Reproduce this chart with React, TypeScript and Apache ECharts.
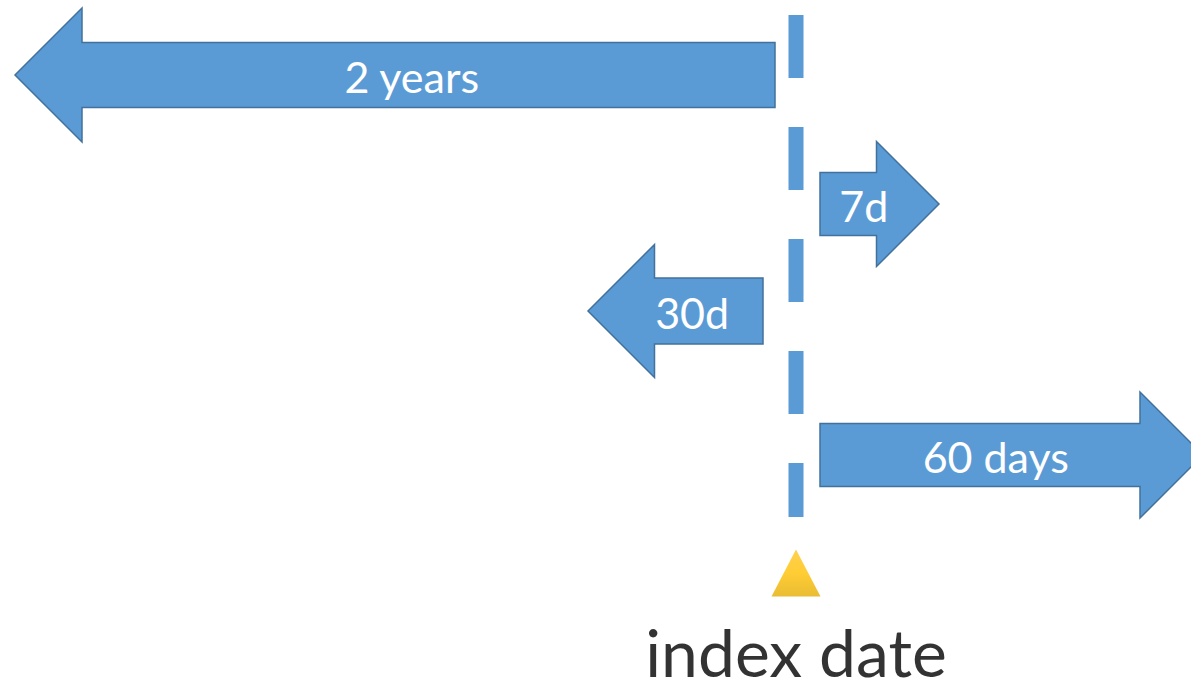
import React, { useEffect, useRef } from "react";
import * as echarts from "echarts";

// Diagram units (horizontal timeline position, vertical row position)
const arrowLabels = ["2 years", "7d", "30d", "60 days"];
const arrowTail = [775, 820, 763, 820];
const arrowTip = [15, 939, 588, 1203];
const arrowRow = [75, 204, 311, 455];
const arrowShaftHalf = [32.5, 31.5, 33, 31.5];
const arrowHeadHalf = [67, 62.5, 66.5, 63];

const indexDateX = 796;
const dashTop = 15;
const dashBottom = 517;
const markerY = 573;
const indexLabel = "index date";

const FILL = "#5B9BD5";
const STROKE = "#41719C";

export default function App() {
  const ref = useRef<HTMLDivElement>(null);
  useEffect(() => {
    const chart = echarts.init(ref.current!, null, { renderer: "svg" });
    const arrowData = arrowLabels.map((l, i) => [
      arrowTail[i],
      arrowTip[i],
      arrowRow[i],
      arrowShaftHalf[i],
      arrowHeadHalf[i],
      i,
    ]);
    chart.setOption({
      animation: false,
      backgroundColor: "#ffffff",
      grid: { left: 0, right: 0, top: 0, bottom: 0 },
      xAxis: { type: "value", min: 0, max: 1191, show: false },
      yAxis: { type: "value", min: 0, max: 691, inverse: true, show: false },
      series: [
        {
          type: "line",
          data: [
            [indexDateX, dashTop],
            [indexDateX, dashBottom],
          ],
          symbol: "none",
          lineStyle: { color: FILL, width: 15, type: [63, 49], cap: "butt" },
          silent: true,
        },
        {
          type: "custom",
          data: arrowData,
          clip: true,
          renderItem: (params: any, api: any) => {
            const tail = api.value(0);
            const tip = api.value(1);
            const row = api.value(2);
            const sh = api.value(3);
            const hh = api.value(4);
            const idx = api.value(5);
            const d = tip > tail ? 1 : -1;
            const base = tip - d * hh;
            const p = (x: number, y: number) => api.coord([x, y]);
            const pts = [
              p(tail, row - sh),
              p(base, row - sh),
              p(base, row - hh),
              p(tip, row),
              p(base, row + hh),
              p(base, row + sh),
              p(tail, row + sh),
            ];
            const labelX = (tail + (tip - (d * hh) / 2)) / 2;
            const c = p(labelX, row);
            return {
              type: "group",
              children: [
                {
                  type: "polygon",
                  shape: { points: pts },
                  style: { fill: FILL, stroke: STROKE, lineWidth: 1.5 },
                },
                {
                  type: "text",
                  x: c[0],
                  y: c[1] + 1,
                  style: {
                    text: arrowLabels[idx],
                    fill: "#ffffff",
                    font: "43px Lato",
                    align: "center",
                    verticalAlign: "middle",
                  },
                },
              ],
            };
          },
        },
        {
          type: "scatter",
          data: [[indexDateX, markerY]],
          symbol: "triangle",
          symbolSize: [49, 47],
          itemStyle: {
            color: new echarts.graphic.LinearGradient(0, 0, 0, 1, [
              { offset: 0, color: "#FFC524" },
              { offset: 0.5, color: "#FFC000" },
              { offset: 1, color: "#E3AB00" },
            ]),
          },
          label: {
            show: true,
            position: "bottom",
            distance: 22,
            formatter: indexLabel,
            color: "#000000",
            fontFamily: "Lato",
            fontSize: 66,
            lineHeight: 66,
          },
          silent: true,
        },
      ],
    });
    return () => chart.dispose();
  }, []);
  return (
    <div
      ref={ref}
      style={{ position: "fixed", left: 0, top: 0, width: 1191, height: 691 }}
    />
  );
}
